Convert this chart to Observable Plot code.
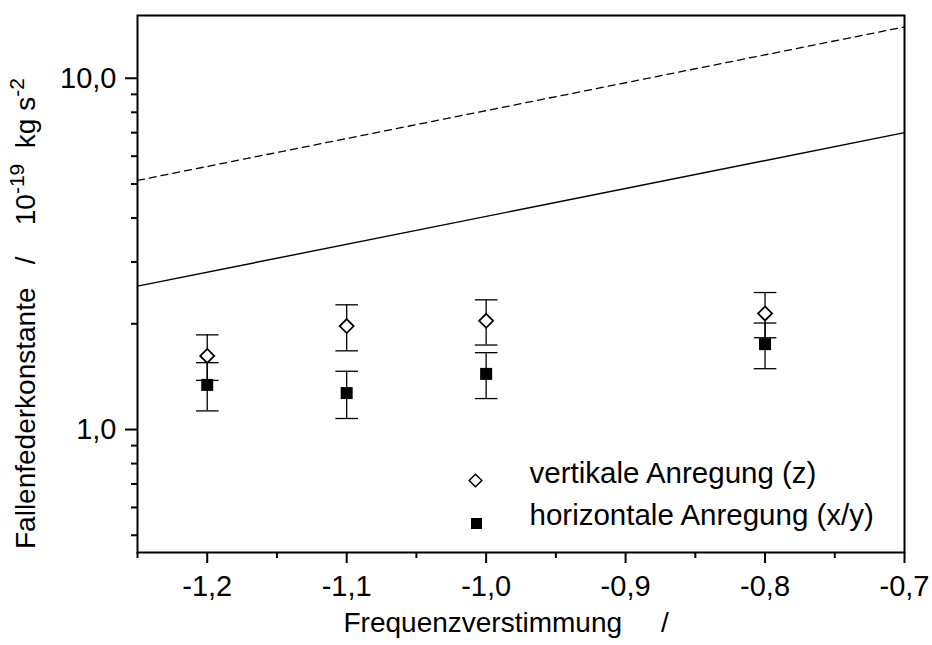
<!DOCTYPE html>
<html><head><meta charset="utf-8">
<script src="https://cdn.jsdelivr.net/npm/d3@7"></script>
<script src="https://cdn.jsdelivr.net/npm/@observablehq/plot@0.6"></script>
<style>
body{margin:0;background:#fff;}
#chart svg{display:block;}
#chart svg text{font-family:"Liberation Sans",Arial,sans-serif;}
</style></head><body><div id="chart"></div>
<script>
// ---- data ----
const xVals = [-1.2, -1.1, -1.0, -0.8];
const vertY = [1.62, 1.97, 2.04, 2.14];
const vertErr = [0.24, 0.295, 0.30, 0.315];
const horY = [1.34, 1.27, 1.44, 1.75];
const horErr = [0.21, 0.195, 0.215, 0.26];
const lineX = [-1.25, -0.7];
const solidY = [2.56, 7.0];
const dashedY = [5.12, 14.0];
const xTicks = [-1.2, -1.1, -1.0, -0.9, -0.8, -0.7];
const xTickLabels = ["-1,2", "-1,1", "-1,0", "-0,9", "-0,8", "-0,7"];
const xMinorTicks = [-1.25, -1.15, -1.05, -0.95, -0.85, -0.75];
const yTicks = [1, 10];
const yTickLabels = ["1,0", "10,0"];
const yMinorTicks = [0.5, 0.6, 0.7, 0.8, 0.9, 2, 3, 4, 5, 6, 7, 8, 9];
const legendLabels = ["vertikale Anregung (z)", "horizontale Anregung (x/y)"];
const xLabel = "Frequenzverstimmung";
const xUnit = "/";
const yLabel = "Fallenfederkonstante";
const yUnit = ["/", "10", "-19", "kg s", "-2"];

// ---- build tables ----
const vertData = xVals.map((x, i) => ({x, y: vertY[i], lo: vertY[i] - vertErr[i], hi: vertY[i] + vertErr[i]}));
const horData = xVals.map((x, i) => ({x, y: horY[i], lo: horY[i] - horErr[i], hi: horY[i] + horErr[i]}));
const solidData = lineX.map((x, i) => ({x, y: solidY[i]}));
const dashedData = lineX.map((x, i) => ({x, y: dashedY[i]}));

// custom symbols (r = half width)
const rOf = (size) => Math.sqrt(size / Math.PI);
const capSymbol = {draw(ctx, size) { const r = rOf(size); ctx.moveTo(-r, 0); ctx.lineTo(r, 0); }};
const diamondSymbol = {draw(ctx, size) { const r = rOf(size); ctx.moveTo(0, -r); ctx.lineTo(r, 0); ctx.lineTo(0, r); ctx.lineTo(-r, 0); ctx.closePath(); }};
const squareSymbol = {draw(ctx, size) { const r = rOf(size); ctx.rect(-r, -r, 2 * r, 2 * r); }};

const FS_TICK = 29;
const FS_LEG = 29.5;
const FS_TITLE = 28;
const sp = (n) => "\u00a0".repeat(n);
const errMarks = (data) => [
  Plot.ruleX(data, {x: "x", y1: "lo", y2: "hi", stroke: "black", strokeWidth: 1.3}),
  Plot.dot(data, {x: "x", y: "lo", symbol: capSymbol, r: 11.3, fill: "none", stroke: "black", strokeWidth: 1.3}),
  Plot.dot(data, {x: "x", y: "hi", symbol: capSymbol, r: 11.3, fill: "none", stroke: "black", strokeWidth: 1.3})
];

const chart = Plot.plot({
  width: 932,
  height: 645,
  marginLeft: 137,
  marginRight: 28,
  marginTop: 15,
  marginBottom: 93,
  style: {background: "white", fontFamily: "Liberation Sans, Arial, sans-serif"},
  x: {domain: [-1.25, -0.7], label: null},
  y: {type: "log", domain: [0.4466, 15.09], label: null},
  marks: [
    Plot.line(dashedData, {x: "x", y: "y", stroke: "black", strokeWidth: 1.3, strokeDasharray: "7,5"}),
    Plot.line(solidData, {x: "x", y: "y", stroke: "black", strokeWidth: 1.4}),
    ...errMarks(vertData),
    ...errMarks(horData),
    Plot.dot(vertData, {x: "x", y: "y", symbol: diamondSymbol, r: 7, fill: "white", stroke: "black", strokeWidth: 1.8}),
    Plot.dot(horData, {x: "x", y: "y", symbol: squareSymbol, r: 6, fill: "black", stroke: "none"}),
    // axes
    Plot.axisX({ticks: xTicks, tickSize: 11, tickPadding: 12, fontSize: FS_TICK, strokeWidth: 2, label: null,
      tickFormat: d => xTickLabels[xTicks.indexOf(d)]}),
    Plot.axisX({ticks: xMinorTicks, tickSize: 6, strokeWidth: 2, label: null, tickFormat: () => ""}),
    Plot.axisY({ticks: yTicks, tickSize: 12, tickPadding: 9, fontSize: FS_TICK, strokeWidth: 2, label: null,
      tickFormat: d => yTickLabels[yTicks.indexOf(d)]}),
    Plot.axisY({ticks: yMinorTicks, tickSize: 6, strokeWidth: 2, label: null, tickFormat: () => ""}),
    Plot.frame({stroke: "black", strokeWidth: 2}),
    // legend
    Plot.dot([legendLabels[0]], {frameAnchor: "bottom-left", dx: 338, dy: -72, symbol: diamondSymbol, r: 6.3, fill: "white", stroke: "black", strokeWidth: 1.5}),
    Plot.dot([legendLabels[1]], {frameAnchor: "bottom-left", dx: 339, dy: -29, symbol: squareSymbol, r: 5.5, fill: "black", stroke: "none"}),
    Plot.text([legendLabels[0]], {text: d => d, frameAnchor: "bottom-left", textAnchor: "start", dx: 392, dy: -70, fontSize: FS_LEG, fill: "black"}),
    Plot.text([legendLabels[1]], {text: d => d, frameAnchor: "bottom-left", textAnchor: "start", dx: 392, dy: -28, fontSize: FS_LEG, fill: "black"}),
    // x axis title
    Plot.text([xLabel + sp(5) + xUnit], {text: d => d, frameAnchor: "bottom-left", textAnchor: "start", dx: 206, dy: 79, fontSize: FS_TITLE, fill: "black"})
  ]
});
document.getElementById("chart").appendChild(chart);

// y axis title with superscripts
const svg = d3.select(chart);
const t = svg.append("text")
  .attr("transform", "translate(35,549) rotate(-90)")
  .attr("font-size", FS_TITLE)
  .attr("fill", "black")
  .attr("text-anchor", "start");
t.append("tspan").text(yLabel + sp(3) + yUnit[0] + sp(4) + yUnit[1]);
t.append("tspan").attr("font-size", 21).attr("dy", -11).text(yUnit[2]);
t.append("tspan").attr("dy", 11).text(sp(2) + yUnit[3]);
t.append("tspan").attr("font-size", 21).attr("dy", -11).text(yUnit[4]);
</script>
</body></html>
